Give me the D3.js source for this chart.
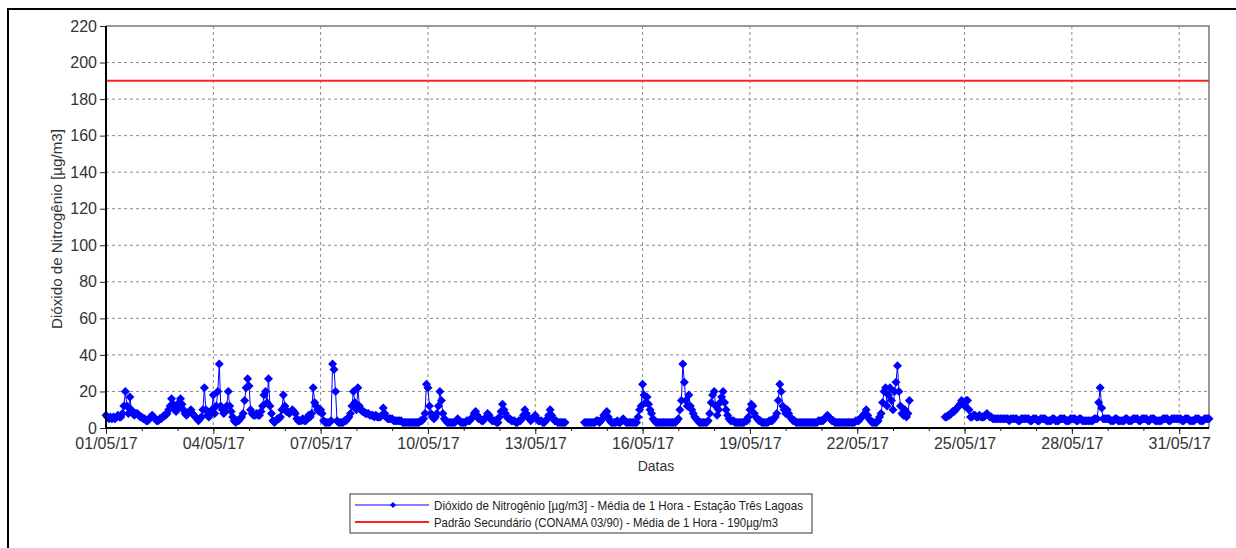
<!DOCTYPE html>
<html>
<head>
<meta charset="utf-8">
<script src="https://cdn.jsdelivr.net/npm/d3@7"></script>
<style>
  body { margin: 0; background: #fff; }
  text { font-family: "Liberation Sans", Arial, sans-serif; }
</style>
</head>
<body>
<div id="chart"></div>
<script>
// ticks
var yTicks = [0, 20, 40, 60, 80, 100, 120, 140, 160, 180, 200, 220];
var xTickLabels = ["01/05/17", "04/05/17", "07/05/17", "10/05/17", "13/05/17", "16/05/17",
                   "19/05/17", "22/05/17", "25/05/17", "28/05/17", "31/05/17"];

// NO2 hourly means (µg/m3), one row per day of May 2017, hours 0..23 (null = no data)
var no2May = [
  [7,6,5,6,5,6,5,6,7,6,6,8,12,20,12,8,17,10,8,7,8,8,7,6],
  [6,5,5,4,4,5,6,7,6,5,4,4,5,5,6,7,7,8,10,12,16,13,10,9],
  [11,14,16,13,10,8,7,8,9,10,8,7,6,5,4,5,6,10,22,10,7,6,8,10],
  [18,8,12,20,35,12,10,8,9,12,20,12,9,6,4,3,4,4,5,6,8,15,22,27],
  [23,10,8,7,7,8,7,7,9,12,18,20,14,27,12,8,4,3,4,5,5,6,10,18],
  [12,9,9,8,9,10,9,8,5,4,4,4,5,4,4,5,7,6,8,22,14,12,10,9],
  [10,8,4,3,3,3,3,4,35,32,20,4,3,3,3,3,4,4,5,6,8,12,20,14],
  [10,22,12,10,9,9,8,8,8,7,7,7,6,7,6,6,6,7,11,8,6,5,5,5],
  [5,4,4,4,4,4,4,3,3,3,3,3,3,3,3,3,3,3,3,4,4,5,8,24],
  [22,12,8,6,5,6,8,12,20,15,8,5,4,3,3,3,3,3,3,4,5,4,3,3],
  [3,3,4,4,4,5,6,8,9,7,5,5,4,4,5,6,8,7,5,4,4,4,3,3],
  [6,9,13,10,8,6,5,5,4,4,4,3,3,4,4,5,7,10,8,6,5,4,5,6],
  [7,5,4,4,4,3,3,4,5,7,10,7,5,4,4,3,3,3,3,3,3,null,null,null],
  [null,null,null,null,null,null,null,null,null,3,3,3,3,3,3,3,3,4,4,3,4,5,7,8],
  [9,6,4,3,3,3,3,4,3,3,4,5,4,3,3,3,3,3,3,3,3,6,10,12],
  [24,18,14,17,13,10,8,5,4,3,3,3,3,3,3,3,3,3,3,3,3,3,3,4],
  [5,10,15,35,25,15,12,18,12,10,8,6,5,4,3,3,3,3,3,3,4,8,14,18],
  [20,12,7,10,14,17,20,14,10,7,5,4,4,4,3,3,3,3,3,3,3,4,4,6],
  [10,13,12,8,6,5,4,4,3,3,3,3,3,4,4,4,5,6,8,15,24,20,12,10],
  [8,10,8,6,5,4,4,3,3,3,3,3,3,3,3,3,3,3,3,3,3,3,4,4],
  [4,4,5,6,7,6,5,4,4,3,3,3,3,3,3,3,3,3,3,3,3,3,3,4],
  [4,4,5,6,7,8,10,7,5,4,3,3,3,3,4,6,8,14,20,22,12,18,22,15],
  [10,20,25,34,20,12,8,7,10,6,8,15,null,null,null,null,null,null,null,null,null,null,null,null],
  [null,null,null,null,null,null,null,null,null,null,null,6,6,7,7,8,9,9,10,11,12,13,15,14],
  [12,15,15,10,6,6,7,7,6,6,7,6,6,6,7,8,7,6,6,5,5,5,5,5],
  [5,5,5,5,5,5,4,5,5,5,5,5,4,4,5,5,5,5,5,5,4,4,5,5],
  [5,4,4,5,5,5,5,4,4,4,4,5,5,4,4,4,5,5,5,5,4,4,4,5],
  [5,5,5,4,4,5,5,4,4,4,4,4,4,4,4,5,5,5,14,22,11,5,5,5],
  [5,5,4,4,4,5,5,4,4,4,4,4,5,5,4,4,4,5,5,5,5,4,4,5],
  [5,5,5,4,4,5,5,5,4,4,4,4,4,5,5,5,5,4,4,5,5,5,5,5],
  [5,5,4,4,5,5,5,4,4,4,4,5,5,5,4,4,4,5,5,5,5]
];

var limiteConama = 190;

var width = 1236, height = 548;
// plot area edges (window.top is reserved, so use prefixed names)
var pLeft = 106, pRight = 1209, pTop = 26, pBottom = 428;

var svg = d3.select("#chart").append("svg")
  .attr("width", width)
  .attr("height", height);

// outer frame (clipped at right/bottom like the screenshot)
svg.append("rect")
  .attr("x", 8).attr("y", 9)
  .attr("width", 1300).attr("height", 600)
  .attr("fill", "none")
  .attr("stroke", "#000")
  .attr("stroke-width", 2);

var x = d3.scaleTime()
  .domain([new Date(2017, 4, 1, 0), new Date(2017, 4, 31, 20)])
  .range([pLeft, pRight]);

var y = d3.scaleLinear()
  .domain([0, 220])
  .range([pBottom, pTop]);

// flatten the day rows into hourly points
var points = [];
no2May.forEach(function(row, d) {
  row.forEach(function(v, h) {
    points.push({ t: new Date(2017, 4, d + 1, h), v: v });
  });
});

// grid
var xTicks = xTickLabels.map(function(s) {
  var p = s.split("/");
  return new Date(2000 + +p[2], +p[1] - 1, +p[0]);
});

svg.append("g").selectAll("line")
  .data(yTicks.filter(function(v) { return v > 0 && v < 220; }))
  .enter().append("line")
  .attr("x1", pLeft).attr("x2", pRight)
  .attr("y1", function(d) { return y(d); })
  .attr("y2", function(d) { return y(d); })
  .attr("stroke", "#8a8a8a")
  .attr("stroke-dasharray", "3,3");

svg.append("g").selectAll("line")
  .data(xTicks.slice(1))
  .enter().append("line")
  .attr("x1", function(d) { return x(d); })
  .attr("x2", function(d) { return x(d); })
  .attr("y1", pTop).attr("y2", pBottom)
  .attr("stroke", "#8a8a8a")
  .attr("stroke-dasharray", "3,3");

// plot box top/right
svg.append("path")
  .attr("d", "M" + pLeft + "," + pTop + "H" + pRight + "V" + pBottom)
  .attr("fill", "none")
  .attr("stroke", "#777")
  .attr("stroke-width", 1.5);

// CONAMA limit
svg.append("line")
  .attr("x1", pLeft).attr("x2", pRight)
  .attr("y1", y(limiteConama)).attr("y2", y(limiteConama))
  .attr("stroke", "#ff2020")
  .attr("stroke-width", 2);

// NO2 series
var line = d3.line()
  .defined(function(d) { return d.v != null; })
  .x(function(d) { return x(d.t); })
  .y(function(d) { return y(d.v); });

svg.append("path")
  .datum(points)
  .attr("d", line)
  .attr("fill", "none")
  .attr("stroke", "#0000ff")
  .attr("stroke-width", 1);

var diamond = "M0,-4.5L4.5,0L0,4.5L-4.5,0Z";

svg.append("g").selectAll("path")
  .data(points.filter(function(d) { return d.v != null; }))
  .enter().append("path")
  .attr("d", diamond)
  .attr("transform", function(d) { return "translate(" + x(d.t) + "," + y(d.v) + ")"; })
  .attr("fill", "#0000ff");

// axes
var yAxis = svg.append("g")
  .attr("transform", "translate(" + pLeft + ",0)")
  .call(d3.axisLeft(y).tickValues(yTicks).tickSize(6).tickPadding(3));

var xMinor = svg.append("g")
  .attr("transform", "translate(0," + pBottom + ")")
  .call(d3.axisBottom(x).ticks(d3.timeDay.every(1)).tickSize(3).tickFormat(""));

var xAxis = svg.append("g")
  .attr("transform", "translate(0," + pBottom + ")")
  .call(d3.axisBottom(x).tickValues(xTicks).tickSize(6).tickPadding(4)
    .tickFormat(function(d, i) { return xTickLabels[i]; }));

[yAxis, xAxis, xMinor].forEach(function(g) {
  g.select(".domain").remove();
  g.selectAll("line").attr("stroke", "#222");
  g.selectAll("text")
    .attr("fill", "#333")
    .style("font-size", "16px")
    .style("font-family", "'Liberation Sans', Arial, sans-serif");
});

// thick left and bottom axis lines
svg.append("path")
  .attr("d", "M" + pLeft + "," + pTop + "V" + pBottom + "H" + pRight)
  .attr("fill", "none")
  .attr("stroke", "#000")
  .attr("stroke-width", 2);

// axis titles
svg.append("text")
  .attr("transform", "translate(62,229) rotate(-90)")
  .attr("text-anchor", "middle")
  .attr("fill", "#333")
  .style("font-size", "14px")
  .attr("textLength", 200)
  .attr("lengthAdjust", "spacingAndGlyphs")
  .text("Dióxido de Nitrogênio [µg/m3]");

svg.append("text")
  .attr("x", 656).attr("y", 471)
  .attr("text-anchor", "middle")
  .attr("fill", "#333")
  .style("font-size", "14px")
  .text("Datas");

// legend
var legend = svg.append("g");
legend.append("rect")
  .attr("x", 350).attr("y", 494)
  .attr("width", 462).attr("height", 39)
  .attr("fill", "#fff")
  .attr("stroke", "#555")
  .attr("stroke-width", 1.2);

legend.append("line")
  .attr("x1", 355).attr("x2", 429).attr("y1", 505).attr("y2", 505)
  .attr("stroke", "#0000ff");
legend.append("path")
  .attr("d", "M0,-3L3,0L0,3L-3,0Z")
  .attr("transform", "translate(393,505)")
  .attr("fill", "#0000ff");
legend.append("line")
  .attr("x1", 355).attr("x2", 429).attr("y1", 522).attr("y2", 522)
  .attr("stroke", "#ff2020").attr("stroke-width", 2);

legend.append("text")
  .attr("x", 434).attr("y", 510)
  .attr("fill", "#222")
  .style("font-size", "13px")
  .attr("textLength", 369)
  .attr("lengthAdjust", "spacingAndGlyphs")
  .text("Dióxido de Nitrogênio [µg/m3] - Média de 1 Hora - Estação Três Lagoas");
legend.append("text")
  .attr("x", 434).attr("y", 527)
  .attr("fill", "#222")
  .style("font-size", "13px")
  .attr("textLength", 344)
  .attr("lengthAdjust", "spacingAndGlyphs")
  .text("Padrão Secundário (CONAMA 03/90) - Média de 1 Hora - 190µg/m3");
</script>
</body>
</html>
